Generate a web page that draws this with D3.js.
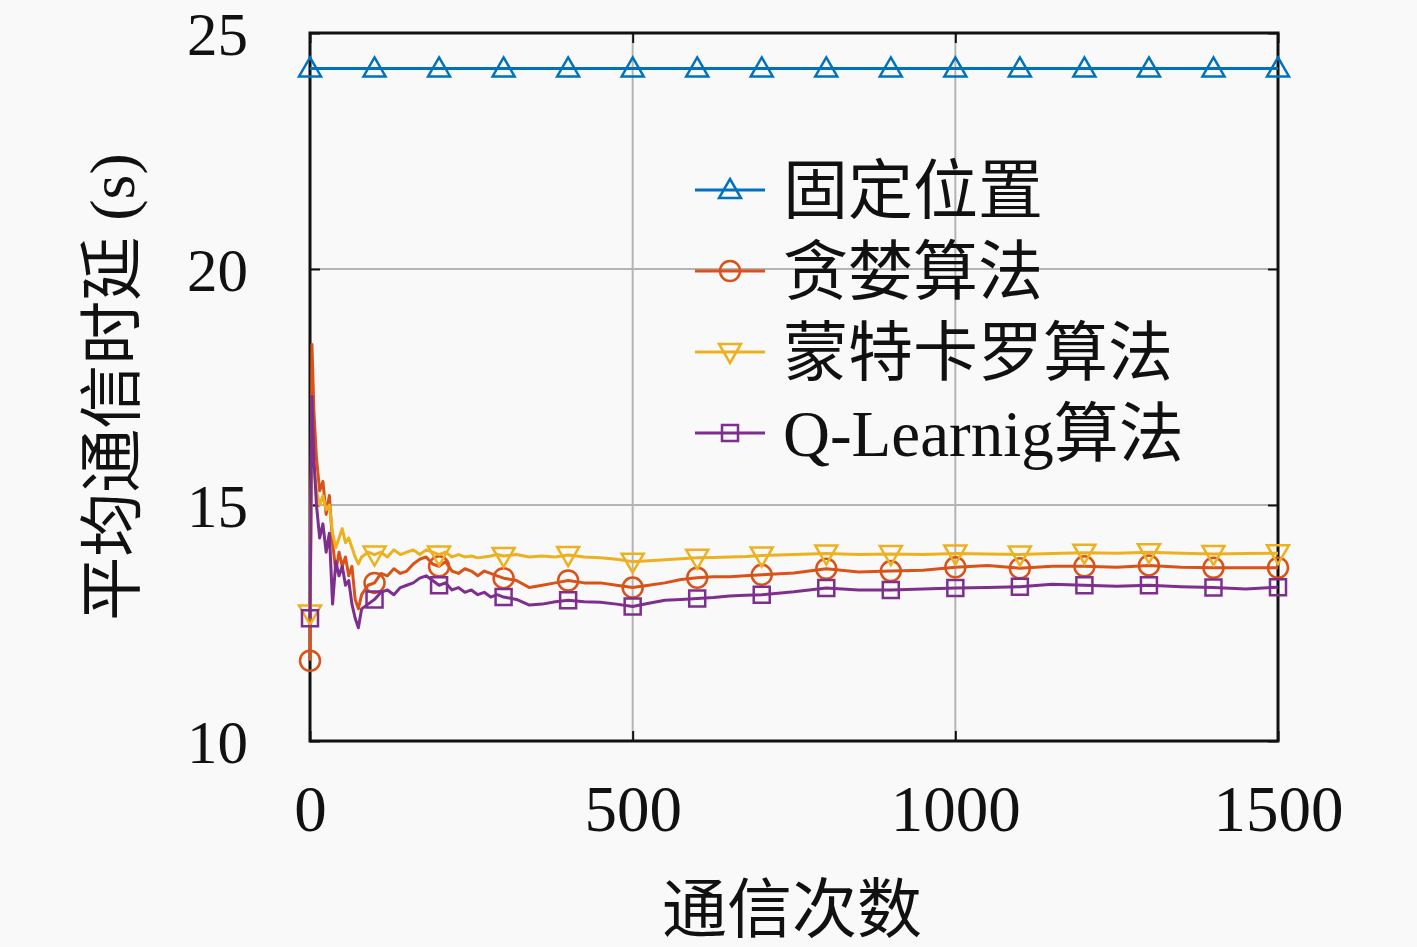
<!DOCTYPE html>
<html>
<head>
<meta charset="utf-8">
<script src="https://cdn.jsdelivr.net/npm/d3@7"></script>
<style>
  html, body { margin: 0; padding: 0; background: #f9f9f9; }
  svg { display: block; }
  text { font-family: "Liberation Serif", "Noto Sans CJK SC", serif; fill: #111; }
</style>
</head>
<body>
<div id="chart"></div>
<script>
(function () {
  // shared x positions (communication count) for the three learning curves
  const steps = [
    0, 3, 6, 10, 15, 20, 25, 30, 35, 40, 45, 50, 55, 60, 65, 70, 75, 80, 90, 100,
    110, 120, 130, 140, 150, 160, 170, 180, 190, 200, 210, 220, 230, 240, 250, 260, 270, 280, 290, 300,
    320, 340, 360, 380, 400, 425, 450, 475, 500, 525, 550, 575, 600, 625, 650, 675, 700,
    750, 800, 850, 900, 950, 1000, 1050, 1100, 1150, 1200, 1250, 1300, 1350, 1400, 1450, 1500
  ];

  const greedy = [
    11.7, 18.4, 17.0, 16.0, 15.3, 15.5, 14.8, 15.2, 14.2, 13.6, 14.0, 13.7, 13.9, 13.5, 13.7, 13.0, 12.8, 13.1, 13.3, 13.35,
    13.55, 13.5, 13.65, 13.55, 13.6, 13.75, 13.85, 13.9, 13.75, 13.7, 13.8, 13.6, 13.55, 13.65, 13.6, 13.5, 13.6, 13.55, 13.5, 13.45,
    13.4, 13.25, 13.3, 13.35, 13.4, 13.35, 13.35, 13.3, 13.25, 13.3, 13.35, 13.42, 13.46, 13.48, 13.48, 13.5, 13.52,
    13.56, 13.65, 13.58, 13.6, 13.62, 13.68, 13.72, 13.66, 13.7, 13.7, 13.68, 13.72, 13.68, 13.67, 13.67, 13.67
  ];

  const monteCarlo = [
    12.7, 16.6, 15.8, 15.3, 15.0, 15.2, 14.9, 15.0, 14.4, 14.1, 14.3, 14.5, 14.2, 14.3, 14.1, 13.9, 13.75, 13.9, 14.0, 13.95,
    14.0, 13.9, 14.05, 13.95, 14.0, 14.05, 13.95, 14.05, 14.0, 13.95, 14.0, 13.9, 13.95, 13.9, 13.92, 13.88, 13.9, 13.92, 13.95, 13.92,
    13.95, 13.9, 13.92, 13.9, 13.94, 13.9, 13.88, 13.85, 13.8, 13.82, 13.84, 13.86, 13.88, 13.89, 13.9, 13.91, 13.93,
    13.95, 13.97, 13.95, 13.96, 13.95, 13.97, 13.96, 13.95, 13.97, 13.99, 13.98, 14.0, 13.98, 13.96, 13.97, 13.98
  ];

  const qLearning = [
    12.6, 17.3, 16.0, 15.0, 14.3, 14.6, 14.0, 14.4, 12.9, 13.8, 13.5, 13.7, 13.3, 13.4, 12.9, 12.6, 12.4, 12.8, 12.9, 13.0,
    13.15, 13.2, 13.1, 13.25, 13.3, 13.35, 13.45, 13.5, 13.4, 13.3, 13.35, 13.2, 13.25, 13.15, 13.2, 13.1, 13.15, 13.05, 13.1, 13.05,
    13.0, 12.88, 12.9, 12.95, 12.98, 12.95, 12.94, 12.9, 12.85, 12.92, 12.98, 13.0, 13.02, 13.04, 13.07, 13.09, 13.1,
    13.16, 13.24, 13.2, 13.2, 13.22, 13.24, 13.25, 13.27, 13.32, 13.3, 13.28, 13.3, 13.27, 13.25, 13.22, 13.26
  ];

  // fixed position baseline
  const fixedSteps = [0, 100, 200, 300, 400, 500, 600, 700, 800, 900, 1000, 1100, 1200, 1300, 1400, 1500];
  const fixedDelay = [24.25, 24.25, 24.25, 24.25, 24.25, 24.25, 24.25, 24.25, 24.25, 24.25, 24.25, 24.25, 24.25, 24.25, 24.25, 24.25];

  const seriesNames = ['固定位置', '贪婪算法', '蒙特卡罗算法', 'Q-Learnig算法'];
  const xTicks = [0, 500, 1000, 1500];
  const yTicks = [10, 15, 20, 25];
  const xLabel = '通信次数';
  const yLabel = '平均通信时延 (s)';

  const W = 1417, H = 947;
  const margin = {top: 33, right: 139, bottom: 206, left: 310};
  const width = W - margin.left - margin.right;
  const height = H - margin.top - margin.bottom;

  const series = [
    {name: seriesNames[0], xs: fixedSteps, ys: fixedDelay, color: '#0072BD', marker: 'up'},
    {name: seriesNames[1], xs: steps, ys: greedy, color: '#D95319', marker: 'circle'},
    {name: seriesNames[2], xs: steps, ys: monteCarlo, color: '#EDB120', marker: 'down'},
    {name: seriesNames[3], xs: steps, ys: qLearning, color: '#7E2F8E', marker: 'square'}
  ];

  const x = d3.scaleLinear().domain([0, 1500]).range([0, width]);
  const y = d3.scaleLinear().domain([10, 25]).range([height, 0]);

  const svg = d3.select('#chart').append('svg')
    .attr('width', W)
    .attr('height', H);

  svg.append('rect').attr('width', W).attr('height', H).attr('fill', '#f9f9f9');

  const g = svg.append('g')
    .attr('transform', 'translate(' + margin.left + ',' + margin.top + ')');

  // grid
  g.append('g')
    .selectAll('line')
    .data(xTicks.slice(1, -1))
    .join('line')
      .attr('x1', d => x(d)).attr('x2', d => x(d))
      .attr('y1', 0).attr('y2', height)
      .attr('stroke', '#b4b4b4').attr('stroke-width', 2);

  g.append('g')
    .selectAll('line')
    .data(yTicks.slice(1, -1))
    .join('line')
      .attr('x1', 0).attr('x2', width)
      .attr('y1', d => y(d)).attr('y2', d => y(d))
      .attr('stroke', '#b4b4b4').attr('stroke-width', 2);

  // axes with inward ticks
  const xAxis = g.append('g')
    .attr('transform', 'translate(0,' + height + ')')
    .call(d3.axisBottom(x).tickValues(xTicks).tickSize(-10).tickPadding(44).tickFormat(d3.format('d')));
  const xAxisTop = g.append('g')
    .call(d3.axisTop(x).tickValues(xTicks).tickSize(-10).tickFormat(''));
  const yAxis = g.append('g')
    .call(d3.axisLeft(y).tickValues(yTicks).tickSize(-10).tickPadding(62).tickFormat(d3.format('d')));
  const yAxisRight = g.append('g')
    .attr('transform', 'translate(' + width + ',0)')
    .call(d3.axisRight(y).tickValues(yTicks).tickSize(-10).tickFormat(''));

  [xAxis, xAxisTop, yAxis, yAxisRight].forEach(a => {
    a.select('.domain').remove();
    a.selectAll('.tick line').attr('stroke', '#111').attr('stroke-width', 2);
  });

  xAxis.selectAll('.tick text')
    .style('font-size', '65px')
    .attr('dy', '0.71em');
  yAxis.selectAll('.tick text')
    .style('font-size', '61px')
    .attr('dy', '0.36em');

  // frame
  g.append('rect')
    .attr('width', width).attr('height', height)
    .attr('fill', 'none').attr('stroke', '#111').attr('stroke-width', 3);

  function markerPath(type) {
    if (type === 'up') return 'M0,-11L11,8L-11,8Z';
    if (type === 'down') return 'M0,11L11,-8L-11,-8Z';
    if (type === 'square') return 'M-8,-8H8V8H-8Z';
    return d3.arc()({innerRadius: 0, outerRadius: 10, startAngle: 0, endAngle: 2 * Math.PI});
  }

  const line = d3.line()
    .x(d => x(d[0]))
    .y(d => y(d[1]));

  series.forEach(s => {
    const pts = s.xs.map((v, i) => [v, s.ys[i]]);
    g.append('path')
      .attr('d', line(pts))
      .attr('fill', 'none')
      .attr('stroke', s.color)
      .attr('stroke-width', 3)
      .attr('stroke-linejoin', 'round');

    g.append('g')
      .selectAll('path')
      .data(pts.filter(p => p[0] % 100 === 0))
      .join('path')
        .attr('transform', d => 'translate(' + x(d[0]) + ',' + y(d[1]) + ')')
        .attr('d', markerPath(s.marker))
        .attr('fill', 'none')
        .attr('stroke', s.color)
        .attr('stroke-width', 2.5);
  });

  // legend
  const legend = g.append('g')
    .attr('transform', 'translate(' + (695 - margin.left) + ',' + (190 - margin.top) + ')');

  const item = legend.selectAll('g')
    .data(series)
    .join('g')
      .attr('transform', (d, i) => 'translate(0,' + (i * 81) + ')');

  item.append('line')
    .attr('x1', 0).attr('x2', 70)
    .attr('stroke', d => d.color).attr('stroke-width', 3);
  item.append('path')
    .attr('transform', 'translate(35,0)')
    .attr('d', d => markerPath(d.marker))
    .attr('fill', 'none')
    .attr('stroke', d => d.color)
    .attr('stroke-width', 2.5);
  item.append('text')
    .attr('x', 88)
    .attr('dy', '0.36em')
    .style('font-size', '65px')
    .text(d => d.name);

  // axis titles
  svg.append('text')
    .attr('x', margin.left + width / 2 - 2)
    .attr('y', 932)
    .attr('text-anchor', 'middle')
    .style('font-size', '65px')
    .text(xLabel);

  svg.append('text')
    .attr('transform', 'translate(134,' + (margin.top + height / 2) + ') rotate(-90)')
    .attr('text-anchor', 'middle')
    .style('font-size', '64px')
    .text(yLabel);
})();
</script>
</body>
</html>
